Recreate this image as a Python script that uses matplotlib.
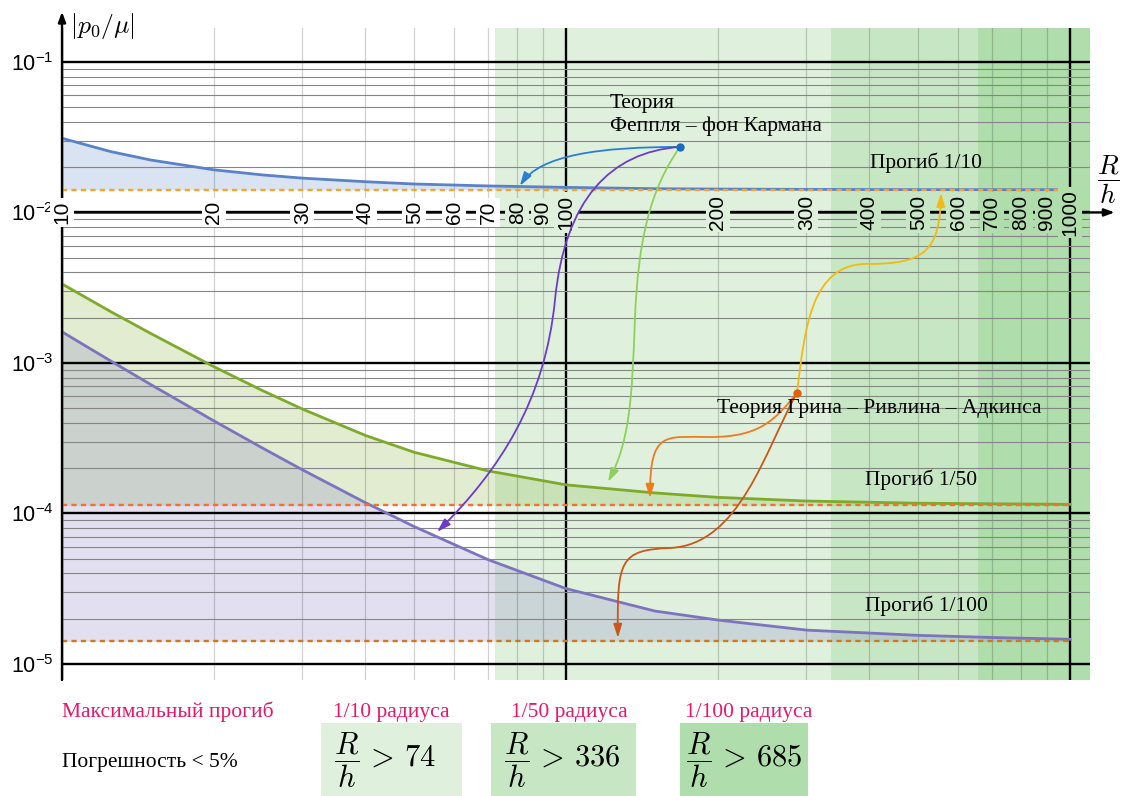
import matplotlib
matplotlib.use("Agg")
import matplotlib.pyplot as plt
from matplotlib.path import Path
from matplotlib.patches import FancyArrowPatch, Rectangle
from matplotlib.ticker import FixedLocator, NullFormatter

plt.rcParams["font.family"] = ["Liberation Sans", "DejaVu Sans"]
SERIF = ["Liberation Serif", "DejaVu Serif"]

# R/h values where the curves were read
rh = [10, 12.5, 15, 20, 25, 30, 40, 50, 70, 100, 150, 200, 300, 500, 700, 1000]
# |p0/mu| for max deflection 1/10, 1/50, 1/100 of the radius
p_10 = [0.0311, 0.02535, 0.0223, 0.0192, 0.01775, 0.0169, 0.0160, 0.01545, 0.0150,
        0.01467, 0.01438, 0.0143, 0.01423, 0.01418, 0.01417, 0.01416]
p_50 = [3.35e-3, 2.19e-3, 1.57e-3, 9.46e-4, 6.55e-4, 4.94e-4, 3.30e-4, 2.55e-4, 1.92e-4,
        1.55e-4, 1.37e-4, 1.28e-4, 1.21e-4, 1.17e-4, 1.16e-4, 1.15e-4]
p_100 = [1.61e-3, 1.03e-3, 7.19e-4, 4.13e-4, 2.72e-4, 1.95e-4, 1.18e-4, 8.18e-5, 4.94e-5,
         3.17e-5, 2.25e-5, 1.96e-5, 1.68e-5, 1.55e-5, 1.50e-5, 1.46e-5]
# Foppl - von Karman limits
p_limit = [0.01415, 1.132e-4, 1.415e-5]
defl_labels = ["1/10", "1/50", "1/100"]
thresholds = [74, 336, 685]      # R/h above which error < 5%
zone_start = [72.3, 336, 656]    # where the shaded zones start in the drawing

curve_colors = ["#5a82c8", "#7eaa2c", "#7d73be"]
dash_colors = ["#f0a632", "#e8743a", "#c87a2a"]
zone_colors = ["#dff1dd", "#c7e7c4", "#afddab"]
crimson = "#e6186a"

x_labels = [10, 20, 30, 40, 50, 60, 70, 80, 90,
            100, 200, 300, 400, 500, 600, 700, 800, 900, 1000]

# annotation anchors and bezier control points (data coords)
fk_dot = (168.3, 0.02724)
gra_dot = (287.3, 6.32e-4)
fk_arrows = [
    ("#2a7fd0", [fk_dot, (116.8, 0.02724), (88.8, 0.0241), (81.0, 0.0150)]),
    ("#6c3cc8", [fk_dot, (122.3, 0.02523), (99.5, 0.01211), (95.1, 2.62e-3),
                 (90.9, 5.68e-4), (74.0, 1.95e-4), (55.5, 7.54e-5)]),
    ("#8fd05a", [fk_dot, (146.8, 0.01411), (139.0, 6.57e-3), (137.0, 1.93e-3),
                 (135.2, 5.68e-4), (133.9, 3.08e-4), (121.2, 1.62e-4)]),
]
gra_arrows = [
    ("#f2b914", [gra_dot, (298.0, 1.657e-3), (304.9, 4.69e-3), (401.1, 4.55e-3),
                 (515.6, 4.55e-3), (552.3, 5.63e-3), (554.8, 0.01348)]),
    ("#f07a1e", [gra_dot, (259.9, 4.18e-4), (242.6, 3.22e-4), (193.1, 3.22e-4),
                 (157.2, 3.22e-4), (146.8, 3.59e-4), (146.8, 1.268e-4)]),
    ("#c8581a", [gra_dot, (248.2, 2.64e-4), (221.4, 6.18e-5), (160.8, 5.9e-5),
                 (128.0, 5.72e-5), (126.2, 4.91e-5), (126.8, 1.49e-5)]),
]

fig = plt.figure(figsize=(11.22, 7.96), dpi=100)
ax = fig.add_axes([62 / 1122, 116 / 796, 1028 / 1122, 652 / 796])
ax.set_xscale("log")
ax.set_yscale("log")
ax.set_xlim(10, 1096)
ax.set_ylim(7.83e-6, 0.168)

# green zones
edges = zone_start + [1096]
for i in range(3):
    ax.axvspan(edges[i], edges[i + 1], color=zone_colors[i], lw=0, zorder=0.2)

# curves, fills and limits
for p, lim, c, dc in zip([p_10, p_50, p_100], p_limit, curve_colors, dash_colors):
    ax.fill_between(rh, p, lim, color=c, alpha=0.22, lw=0, zorder=1)
    ax.plot(rh, p, color=c, lw=2, zorder=2.2)
    ax.plot([10, 1000], [lim, lim], color=dc, lw=1.7, ls=(0, (2.2, 1.8)), zorder=2.3)

# grid
ax.set_axisbelow("line")
ax.xaxis.set_major_locator(FixedLocator([10, 100, 1000]))
ax.xaxis.set_minor_locator(FixedLocator([k * 10 ** e for e in (1, 2) for k in range(2, 10)]))
ax.yaxis.set_major_locator(FixedLocator([1e-5, 1e-4, 1e-3, 1e-2, 1e-1]))
ax.yaxis.set_minor_locator(FixedLocator([k * 10.0 ** e for e in (-5, -4, -3, -2) for k in range(2, 10)]))
ax.xaxis.set_major_formatter(NullFormatter())
ax.xaxis.set_minor_formatter(NullFormatter())
ax.yaxis.set_minor_formatter(NullFormatter())
ax.grid(which="major", axis="both", color="black", lw=1.7)
ax.grid(which="minor", axis="y", color="#858585", lw=0.8)
ax.grid(which="minor", axis="x", color="black", alpha=0.18, lw=0.9)
ax.tick_params(which="both", length=0)
ax.tick_params(axis="y", labelsize=15.5, pad=6)
for s in ax.spines.values():
    s.set_visible(False)

# axes with arrows
ax.annotate("", xy=(1.024, 1e-2), xytext=(0, 1e-2),
            xycoords=("axes fraction", "data"), textcoords=("axes fraction", "data"),
            arrowprops=dict(arrowstyle="-|>,head_length=0.6,head_width=0.22", color="black",
                            lw=1.7, shrinkA=0, shrinkB=0),
            annotation_clip=False, zorder=2.5)
ax.annotate("", xy=(0, 1.025), xytext=(0, 0), xycoords="axes fraction",
            arrowprops=dict(arrowstyle="-|>,head_length=0.6,head_width=0.22", color="black",
                            lw=1.7, shrinkA=0, shrinkB=0),
            annotation_clip=False, zorder=2.5)

# x tick labels sitting on the y=1e-2 line
for v in x_labels:
    bg = "white"
    for t, zc in zip(zone_start, zone_colors):
        if v >= t:
            bg = zc
    ax.text(v, 1e-2, str(v), rotation=90, ha="center", va="center", fontsize=15,
            bbox=dict(boxstyle="square,pad=0.12", fc=bg, ec="none"), zorder=3)

ax.text(0.008, 1.003, r"$|p_0/\mu|$", transform=ax.transAxes, fontsize=18.5,
        math_fontfamily="cm", ha="left", va="center")
ax.text(1.0175, 0.767, r"$\dfrac{R}{h}$", transform=ax.transAxes, fontsize=19.5,
        math_fontfamily="cm", ha="center", va="center", clip_on=False)

# annotations
ax.text(122.2, 0.0445, "Теория\nФеппля – фон Кармана", family=SERIF, fontsize=15.5,
        ha="left", va="center", linespacing=1.2, zorder=5)
ax.text(199.4, 5.02e-4, "Теория Грина – Ривлина – Адкинса", family=SERIF, fontsize=15.5,
        ha="left", va="center", zorder=5)
for lab, xp, yp in zip(defl_labels, [401, 392, 392], [0.0213, 1.67e-4, 2.43e-5]):
    ax.text(xp, yp, f"Прогиб {lab}", family=SERIF, fontsize=15.5, ha="left", va="center", zorder=5)

for c, pts in fk_arrows + gra_arrows:
    codes = [Path.MOVETO] + [Path.CURVE4] * (len(pts) - 1)
    arr = FancyArrowPatch(path=Path(pts, codes), transform=ax.transData,
                          arrowstyle="-|>,head_length=0.45,head_width=0.14",
                          mutation_scale=18, color=c, lw=1.3, zorder=4)
    ax.add_patch(arr)
ax.plot(*fk_dot, "o", color="#1a6cc0", ms=5, zorder=5)
ax.plot(*gra_dot, "o", color="#e0600e", ms=5, zorder=5)

# bottom table
fig.text(62 / 1122, 1 - 712 / 796, "Максимальный прогиб", color=crimson, family=SERIF,
         fontsize=15.5, va="center", ha="left")
fig.text(62 / 1122, 1 - 762 / 796, "Погрешность < 5%", color="black", family=SERIF,
         fontsize=15.5, va="center", ha="left")
box_x = [321, 491, 680]
box_w = [141, 145, 128]
lab_cx = [391, 569, 749]
math_x = [334, 504, 686]
for i in range(3):
    fig.add_artist(Rectangle((box_x[i] / 1122, 0), box_w[i] / 1122, 73 / 796,
                             transform=fig.transFigure, fc=zone_colors[i], ec="none"))
    fig.text(lab_cx[i] / 1122, 1 - 712 / 796, f"{defl_labels[i]} радиуса", color=crimson,
             family=SERIF, fontsize=15.5, va="center", ha="center")
    fig.text(math_x[i] / 1122, 1 - 760 / 796,
             rf"$\dfrac{{R}}{{h}}\,>\,{thresholds[i]}$",
             fontsize=22, math_fontfamily="cm", va="center", ha="left")

fig.savefig("out.png", dpi=100)
